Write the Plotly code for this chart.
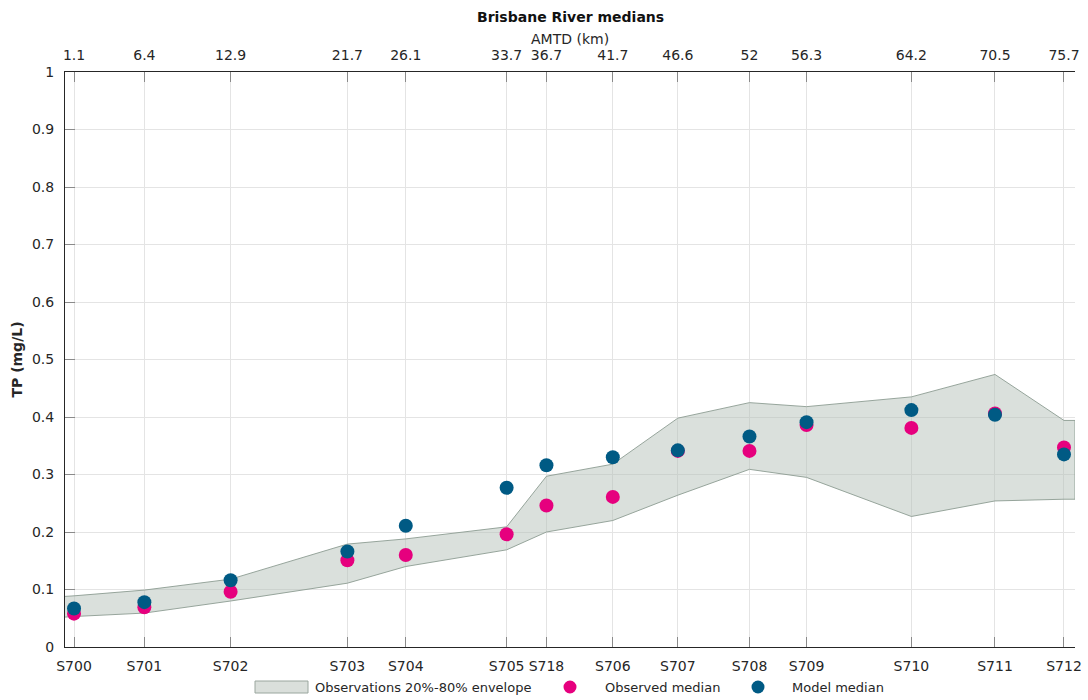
import plotly.graph_objects as go

# ---------------- data ----------------
stations = ["S700", "S701", "S702", "S703", "S704", "S705", "S718",
            "S706", "S707", "S708", "S709", "S710", "S711", "S712"]
amtd_km = [1.1, 6.4, 12.9, 21.7, 26.1, 33.7, 36.7,
           41.7, 46.6, 52, 56.3, 64.2, 70.5, 75.7]
amtd_labels = ["1.1", "6.4", "12.9", "21.7", "26.1", "33.7", "36.7",
               "41.7", "46.6", "52", "56.3", "64.2", "70.5", "75.7"]

observed_median = [0.058, 0.069, 0.096, 0.151, 0.160, 0.196, 0.246,
                   0.261, 0.341, 0.341, 0.386, 0.381, 0.406, 0.347]
model_median = [0.067, 0.078, 0.116, 0.166, 0.211, 0.277, 0.316,
                0.330, 0.342, 0.366, 0.391, 0.412, 0.404, 0.335]

# envelope (20th / 80th percentiles of observations), extended to axis edges
X_MIN, X_MAX = 0.42, 76.53
env_km = [X_MIN] + amtd_km + [X_MAX]
env_p80 = [0.088, 0.089, 0.099, 0.118, 0.179, 0.188, 0.209, 0.297,
           0.318, 0.398, 0.425, 0.418, 0.435, 0.474, 0.394, 0.394]
env_p20 = [0.052, 0.053, 0.059, 0.080, 0.111, 0.140, 0.169, 0.200,
           0.220, 0.264, 0.309, 0.295, 0.227, 0.254, 0.257, 0.257]

FONT = "DejaVu Sans"
PINK = "#E6007E"
BLUE = "#005A84"
GRID = "#E4E4E4"
AXC = "#262626"
TICKC = "#8a8a8a"
TXT = "#262626"
FILL = "rgba(178,190,181,0.48)"
EDGE = "#8C9C92"

W, H = 1088, 700
ML, MR, MT, MB = 65, 13, 72, 53
PW, PH = W - ML - MR, H - MT - MB


def px(x):
    return (x - ML) / PW


def py(y):
    return (H - MB - y) / PH


fig = go.Figure()

fig.add_trace(go.Scatter(
    x=env_km + env_km[::-1],
    y=env_p80 + env_p20[::-1],
    fill="toself", fillcolor=FILL,
    line=dict(color=EDGE, width=0.9),
    mode="lines", name="Observations 20%-80% envelope",
    hoverinfo="skip", showlegend=False,
))
fig.add_trace(go.Scatter(
    x=amtd_km, y=observed_median, mode="markers",
    marker=dict(color=PINK, size=14, line=dict(width=0)),
    name="Observed median", showlegend=False,
))
fig.add_trace(go.Scatter(
    x=amtd_km, y=model_median, mode="markers",
    marker=dict(color=BLUE, size=14, line=dict(width=0)),
    name="Model median", showlegend=False,
))
# invisible trace to activate the top axis
fig.add_trace(go.Scatter(
    x=amtd_km, y=model_median, xaxis="x2", mode="markers",
    marker=dict(opacity=0), showlegend=False, hoverinfo="skip",
))

# ---- legend drawn below the plot ----
LEG_Y = 687
shapes = [
    dict(type="rect", xref="paper", yref="paper",
         x0=px(255), x1=px(308), y0=py(693), y1=py(681),
         fillcolor="#DADFDB", line=dict(color="#9aa69e", width=1)),
    dict(type="circle", xref="paper", yref="paper",
         xsizemode="pixel", ysizemode="pixel",
         xanchor=px(570), yanchor=py(LEG_Y), x0=-6.5, x1=6.5, y0=-6.5, y1=6.5,
         fillcolor=PINK, line=dict(width=0)),
    dict(type="circle", xref="paper", yref="paper",
         xsizemode="pixel", ysizemode="pixel",
         xanchor=px(758), yanchor=py(LEG_Y), x0=-6.5, x1=6.5, y0=-6.5, y1=6.5,
         fillcolor=BLUE, line=dict(width=0)),
]
leg_texts = [("Observations 20%-80% envelope", 313),
             ("Observed median", 603),
             ("Model median", 790)]
annotations = [
    dict(text="<b>Brisbane River medians</b>", xref="paper", yref="paper",
         x=0.5, y=py(17), xanchor="center", yanchor="middle",
         showarrow=False, font=dict(size=14, color="#111111")),
    dict(text="AMTD (km)", xref="paper", yref="paper",
         x=0.5, y=py(38.5), xanchor="center", yanchor="middle",
         showarrow=False, font=dict(size=14, color=TXT)),
]
for t, xpos in leg_texts:
    annotations.append(dict(text=t, xref="paper", yref="paper",
                            x=px(xpos), y=py(LEG_Y), xanchor="left",
                            yanchor="middle", showarrow=False,
                            font=dict(size=13, color=TXT)))

fig.update_layout(
    width=W, height=H,
    margin=dict(l=ML, r=MR, t=MT, b=MB),
    paper_bgcolor="white", plot_bgcolor="white",
    font=dict(family=FONT, size=14, color=TXT),
    showlegend=False,
    xaxis=dict(
        range=[X_MIN, X_MAX], tickmode="array",
        tickvals=amtd_km, ticktext=stations,
        showgrid=True, gridcolor=GRID, gridwidth=1,
        showline=True, linecolor=AXC, linewidth=1,
        ticks="inside", ticklen=10, tickcolor=TICKC,
        ticklabelstandoff=6,
        zeroline=False, automargin=False,
        tickfont=dict(size=14, color=TXT),
    ),
    xaxis2=dict(
        range=[X_MIN, X_MAX], overlaying="x", side="top",
        tickmode="array", tickvals=amtd_km, ticktext=amtd_labels,
        showgrid=False, showline=True, linecolor=AXC, linewidth=1,
        ticks="inside", ticklen=10, tickcolor=TICKC,
        ticklabelstandoff=5,
        zeroline=False, automargin=False,
        tickfont=dict(size=14, color=TXT),
    ),
    yaxis=dict(
        range=[0, 1], tickmode="array",
        tickvals=[i / 10 for i in range(11)],
        ticktext=["0", "0.1", "0.2", "0.3", "0.4", "0.5", "0.6",
                  "0.7", "0.8", "0.9", "1"],
        showgrid=True, gridcolor=GRID, gridwidth=1,
        showline=True, linecolor=AXC, linewidth=1,
        ticks="inside", ticklen=10, tickcolor=TICKC,
        ticklabelstandoff=7,
        zeroline=False, automargin=False,
        title=dict(text="<b>TP (mg/L)</b>", font=dict(size=14), standoff=6),
        tickfont=dict(size=14, color=TXT),
    ),
    shapes=shapes,
    annotations=annotations,
)

fig.write_html("out.html",
               config={"displayModeBar": False},
               post_script="document.body.style.margin='0';"
                           "document.body.style.overflow='hidden';")
